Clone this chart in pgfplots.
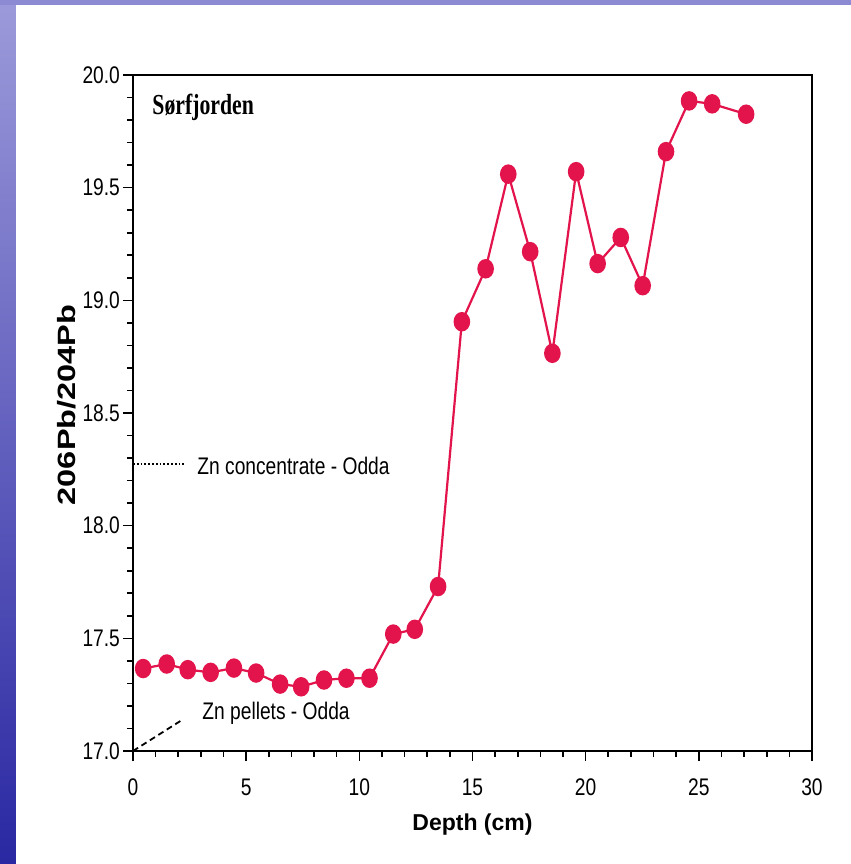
\documentclass[border=0pt]{standalone}
\usepackage{graphicx}
\usepackage{pgfplots}
\pgfplotsset{compat=1.18}
\usepackage{fontspec}
\setmainfont{Liberation Sans}
\newfontfamily\narrowsans[FakeStretch=0.8]{Liberation Sans}
\newfontfamily\titleserif[FakeStretch=0.75]{Liberation Serif}
\definecolor{pbred}{HTML}{E3134C}
\definecolor{bgtop}{HTML}{9C9ADA}
\definecolor{bgmid}{HTML}{5654B8}
\definecolor{bgbot}{HTML}{2A28A2}
\definecolor{bgstrip}{HTML}{8C8AD2}

\begin{document}
\begin{tikzpicture}
\useasboundingbox (-66.5pt,-56.5pt) rectangle (359pt,375.5pt);
\fill[white] (-66.5pt,-56.5pt) rectangle (359pt,375.5pt);
\shade[top color=bgtop,middle color=bgmid,bottom color=bgbot] (-66.5pt,-56.5pt) rectangle (-58.5pt,375.5pt);
\fill[bgstrip] (-66.5pt,372.8pt) rectangle (359pt,375.5pt);
\begin{axis}[
 scale only axis,width=339.5pt,height=338pt,
 xmin=0,xmax=30,ymin=17,ymax=20,
 xtick={0,5,10,15,20,25,30},ytick={17,17.5,18,18.5,19,19.5,20},
 minor x tick num=4,minor y tick num=4,
 tick align=outside,tick pos=left,
 major tick length=5pt,minor tick length=3pt,
 every tick/.style={black,line width=.8pt},
 axis line style={black,line width=1pt},
 /pgf/number format/assume math mode=true,
 tick label style={font=\narrowsans\fontsize{12}{13}\selectfont},
 yticklabel style={xshift=2pt,/pgf/number format/.cd,fixed,fixed zerofill,precision=1},
 xticklabel style={yshift=-5.5pt},
 xlabel={\bfseries Depth (cm)},
 ylabel={\scalebox{1.3}[1]{\bfseries 206Pb/204Pb}},
 xlabel style={at={(axis description cs:0.5,-0.117)},anchor=base,
   font=\fontsize{11.5}{13}\selectfont},
 ylabel style={at={(axis description cs:-0.0854,0.512)},anchor=base,
   font=\fontsize{12.5}{14}\selectfont},
]
\addplot[pbred,line width=1.1pt,mark=*,mark size=3.6pt,
  mark options={yscale=1.2,fill=pbred,draw=pbred}] coordinates {
 (0.45,17.366) (1.49,17.386) (2.42,17.361) (3.43,17.349) (4.46,17.368)
 (5.44,17.346) (6.5,17.297) (7.43,17.285) (8.44,17.315) (9.43,17.323)
 (10.45,17.323) (11.5,17.519) (12.45,17.54) (13.48,17.73)
 (14.53,18.905) (15.58,19.14) (16.58,19.56) (17.55,19.216)
 (18.53,18.765) (19.58,19.571) (20.53,19.163) (21.55,19.279)
 (22.52,19.065) (23.55,19.66) (24.57,19.885) (25.59,19.872)
 (27.09,19.826)};
\draw[densely dotted,line width=.9pt] (axis cs:0,18.272) -- (axis cs:2.25,18.272);
\node[anchor=base west,inner sep=0,font=\narrowsans\fontsize{12}{13}\selectfont]
  at (axis cs:2.83,18.229) {Zn concentrate - Odda};
\draw[densely dashed,line width=.9pt] (axis cs:0,17.0) -- (axis cs:2.17,17.138);
\node[anchor=base west,inner sep=0,font=\narrowsans\fontsize{12}{13}\selectfont]
  at (axis cs:3.05,17.138) {Zn pellets - Odda};
\node[anchor=base west,inner sep=0,font=\titleserif\bfseries\fontsize{14.5}{16}\selectfont]
  at (axis cs:0.84,19.823) {Sørfjorden};
\end{axis}
\end{tikzpicture}
\end{document}
